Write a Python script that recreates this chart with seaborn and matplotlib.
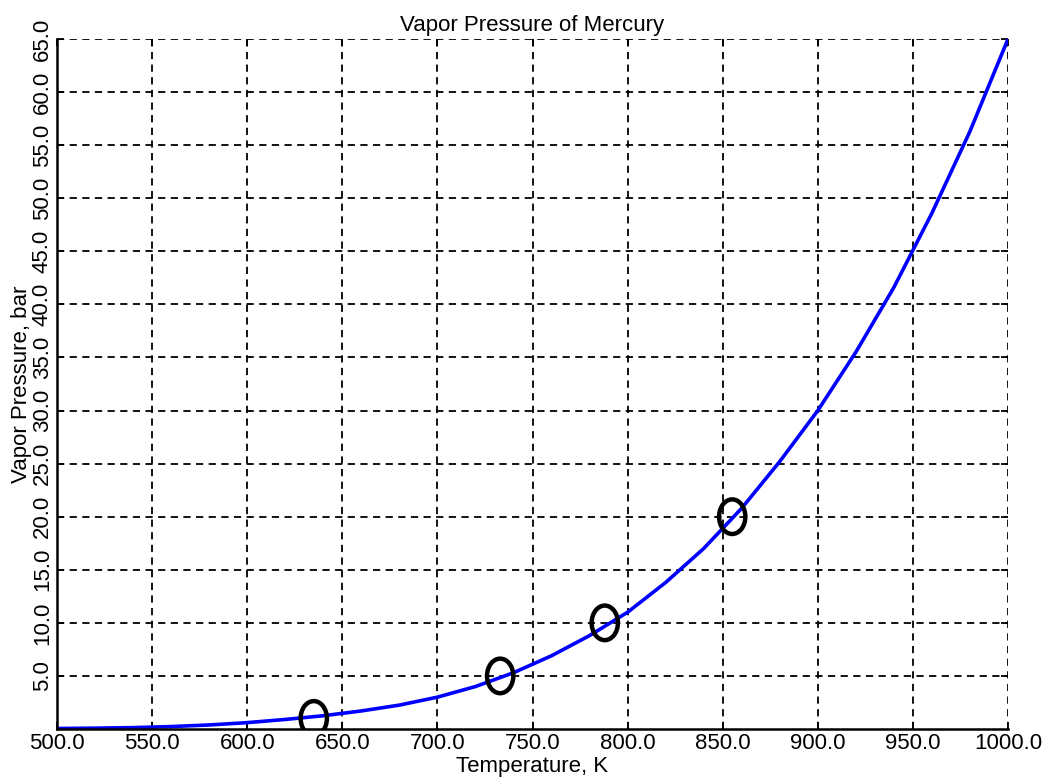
import numpy as np
import pandas as pd
import matplotlib
matplotlib.use("Agg")
import matplotlib.pyplot as plt
from matplotlib.path import Path
from matplotlib.transforms import Affine2D
import seaborn as sns

# curve (temperature K, pressure bar)
temperature = [500, 520, 540, 560, 580, 600, 620, 640, 660, 680, 700, 720, 740,
               760, 780, 800, 820, 840, 860, 880, 900, 920, 940, 960, 980, 1000]
pressure = [0.05, 0.08, 0.13, 0.23, 0.38, 0.6, 0.9, 1.25, 1.7, 2.25, 3.0, 4.0, 5.3,
            6.9, 8.8, 11.0, 13.8, 17.0, 20.8, 25.2, 30.0, 35.5, 41.6, 48.6, 56.3, 65.0]

# marked points
mark_temp = [635, 733, 788, 855]
mark_pres = [1.0, 5.0, 10.0, 20.0]

x_ticks = [500, 550, 600, 650, 700, 750, 800, 850, 900, 950, 1000]
y_ticks = [5, 10, 15, 20, 25, 30, 35, 40, 45, 50, 55, 60, 65]

curve = pd.DataFrame({"T": temperature, "P": pressure})
marks = pd.DataFrame({"T": mark_temp, "P": mark_pres})

sns.set_style("ticks")
plt.rcParams["font.family"] = ["Liberation Sans", "DejaVu Sans"]
plt.rcParams["text.color"] = "black"
plt.rcParams["axes.labelcolor"] = "black"

fig = plt.figure(figsize=(10.44, 7.82), dpi=100)
ax = fig.add_axes([57 / 1044, 53 / 782, 951 / 1044, 690 / 782])

sns.lineplot(data=curve, x="T", y="P", ax=ax, color="#0000ff", linewidth=2.6)

# the markers look like a tall "O", so use a squashed circle path
ellipse = Path.unit_circle().transformed(Affine2D().scale(0.76, 1.0))
sns.scatterplot(data=marks, x="T", y="P", ax=ax, marker=ellipse, s=620,
                facecolor="none", edgecolor="black", linewidth=3.2, zorder=5)

ax.set_xlim(500, 1000)
ax.set_ylim(0, 65)
ax.set_xticks(x_ticks)
ax.set_yticks(y_ticks)
ax.set_xticklabels([f"{v:.1f}" for v in x_ticks], fontsize=16)
ax.set_yticklabels([f"{v:.1f}" for v in y_ticks], fontsize=16,
                   rotation=90, va="center")

ax.grid(True, color="black", linestyle=(0, (4, 3)), linewidth=1.3)
ax.tick_params(direction="in", length=5, width=1.3, top=True, right=True,
               pad=3, colors="black", labelcolor="black")
for side in ["top", "right"]:
    ax.spines[side].set_visible(False)
for side in ["left", "bottom"]:
    ax.spines[side].set_linewidth(1.8)
    ax.spines[side].set_color("black")

ax.set_title("Vapor Pressure of Mercury", fontsize=16, pad=6, color="black")
ax.set_xlabel("Temperature, K", fontsize=16, labelpad=1)
ax.set_ylabel("Vapor Pressure, bar", fontsize=16, labelpad=0)

fig.savefig("out.png", dpi=100)
